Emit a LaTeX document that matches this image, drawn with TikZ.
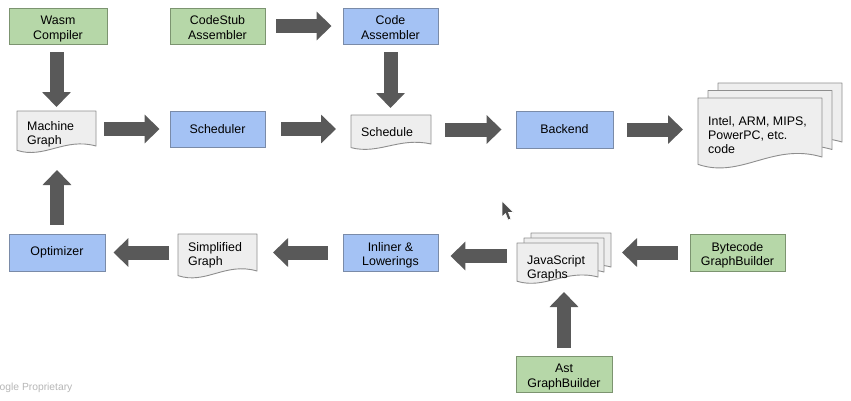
\documentclass[tikz,border=0pt]{standalone}
\usepackage{fontspec}
\setmainfont{Liberation Sans}
\usetikzlibrary{arrows.meta,calc,backgrounds}
\definecolor{grnfill}{HTML}{B6D7A8}
\definecolor{grnline}{HTML}{7C9470}
\definecolor{blufill}{HTML}{A4C2F4}
\definecolor{bluline}{HTML}{7A8BA8}
\definecolor{docfill}{HTML}{EEEEEE}
\definecolor{docline}{HTML}{8E8E8E}
\definecolor{arrgray}{HTML}{595959}
\definecolor{footgray}{HTML}{B7B7B7}
\newcommand\docout[1]{%
  \path[docstyle] let \p1=(#1.north west), \p2=(#1.south east) in
    (\p1) -- (\x2,\y1) -- (\p2)
    .. controls ({\x1+0.6*(\x2-\x1)},{\y2+0.25*(\y1-\y2)}) and ({\x1+0.35*(\x2-\x1)},{\y2-0.375*(\y1-\y2)}) ..
    ({\x1},{\y2-0.125*(\y1-\y2)}) -- cycle;}
\newcommand\twoline[2]{\raisebox{-3pt}[\height][\depth]{\begin{tabular}{@{}c@{}}#1\\#2\end{tabular}}}
\begin{document}
\begin{tikzpicture}[x=1pt,y=-1pt,
  txt/.style={font=\fontsize{12.4}{14.5}\selectfont, text=black},
  box/.style={txt, rectangle, align=center, minimum height=36pt, inner sep=0pt, line width=0.9pt},
  gbox/.style={box, fill=grnfill, draw=grnline},
  bbox/.style={box, fill=blufill, draw=bluline},
  docbody/.style={rectangle, inner sep=0pt, outer sep=0pt, anchor=north west},
  doctext/.style={txt, align=left, inner sep=0pt, anchor=west, xshift=10pt},
  docstyle/.style={fill=docfill, draw=docline, line width=0.9pt, line join=round},
  blk/.style={draw=arrgray, line width=14pt, -{Triangle[width=28pt,length=15pt]}},
]
\useasboundingbox (0,0) rectangle (851,400);

% boxes
\node[gbox, minimum width=98pt] (wasm) at (58,26) {\twoline{Wasm}{Compiler}};
\node[gbox, minimum width=95pt] (csa) at (217.5,26) {\twoline{CodeStub}{Assembler}};
\node[bbox, minimum width=95pt] (ca) at (390.5,26) {\twoline{Code}{Assembler}};
\node[bbox, minimum width=95pt] (sch) at (217.5,129) {Scheduler};
\node[bbox, minimum width=97pt, minimum height=37pt] (be) at (564.5,129.5) {Backend};
\node[bbox, minimum width=96pt, minimum height=37pt] (opt) at (57,252.5) {Optimizer};
\node[bbox, minimum width=95pt, minimum height=37pt] (inl) at (390.5,252.5) {\twoline{Inliner \&}{Lowerings}};
\node[gbox, minimum width=95pt, minimum height=37pt] (bgb) at (737.5,252.5) {\twoline{Bytecode}{GraphBuilder}};
\node[gbox, minimum width=96pt, minimum height=36pt] (ast) at (564,374) {\twoline{Ast}{GraphBuilder}};

% documents
\node[docbody, minimum width=79pt, minimum height=35pt,
  label={[doctext,yshift=-6pt]west:{Machine\\Graph}}] (mg) at (17,111) {};
\node[docbody, minimum width=80pt, minimum height=29pt,
  label={[doctext,yshift=-2.5pt]west:{Schedule}}] (sched) at (351,115) {};
\node[docbody, minimum width=79pt, minimum height=37pt,
  label={[doctext,yshift=-3pt]west:{Simplified\\Graph}}] (simp) at (178,234) {};
\node[docbody, minimum width=80pt, minimum height=34pt] (jsb) at (531,233) {};
\node[docbody, minimum width=80pt, minimum height=34pt] (jsm) at (524,238) {};
\node[docbody, minimum width=81pt, minimum height=34pt,
  label={[doctext,yshift=-8.5pt]west:{JavaScript\\Graphs}}] (js) at (517,243) {};
\node[docbody, minimum width=124pt, minimum height=59pt] (codeb) at (718,83) {};
\node[docbody, minimum width=124pt, minimum height=59pt] (codem) at (708,90.5) {};
\node[docbody, minimum width=124pt, minimum height=59pt,
  label={[doctext,yshift=-7.5pt,font=\fontsize{12.4}{14}\selectfont]west:{Intel, ARM, MIPS,\\PowerPC, etc.\\code}}] (code) at (698,98) {};

\begin{scope}[on background layer]
  \fill[white] (0,0) rectangle (851,400);
  \docout{mg}
  \docout{sched}
  \docout{simp}
  \docout{jsb}
  \docout{jsm}
  \docout{js}
  \docout{codeb}
  \docout{codem}
  \docout{code}
\end{scope}

% block arrows
\draw[blk, shorten <=8pt, shorten >=4pt] (wasm.south -| mg.north) -- (mg.north);
\draw[blk, shorten <=8pt, shorten >=10pt] (mg.east |- sch.west) -- (sch.west);
\draw[blk, shorten <=16pt, shorten >=15pt] (sch.east) -- (sch.east -| sched.west);
\draw[blk, shorten <=11pt, shorten >=11pt] (csa.east) -- (ca.west);
\draw[blk, shorten <=8pt, shorten >=7pt] (ca.south) -- (ca.south |- sched.north);
\draw[blk, shorten <=14pt, shorten >=14pt] (sched.east |- be.west) -- (be.west);
\draw[blk, shorten <=14pt, shorten >=15pt] (be.east) -- (be.east -| code.west);
\draw[blk, shorten <=12pt, shorten >=11pt] (bgb.west) -- (bgb.west -| jsb.east);
\draw[blk, shorten <=8pt, shorten >=15pt] (ast.north) -- (ast.north |- js.south);
\draw[blk, shorten <=10pt, shorten >=12pt] ([yshift=4pt]js.west) -- ([yshift=4pt]js.west -| inl.east);
\draw[blk, shorten <=15pt, shorten >=16pt] (inl.west) -- (inl.west -| simp.east);
\draw[blk, shorten <=9pt, shorten >=8pt] (simp.west |- opt.east) -- (opt.east);
\draw[blk, shorten <=9pt, shorten >=24pt] (opt.north) -- (opt.north |- mg.south);

% mouse pointer
\path[fill=arrgray!85!black, draw=white, line width=0.7pt, line join=round]
  (502,201) -- (502,217) -- (505.5,213.5) -- (508,220) -- (511,219) -- (508.5,212.5) -- (513.5,212.5) -- cycle;

% footer
\node[font=\fontsize{10.3}{12}\selectfont, text=footgray, anchor=west, inner sep=0pt] (foot) at (-0.5,388) {ogle Proprietary};
\end{tikzpicture}
\end{document}
